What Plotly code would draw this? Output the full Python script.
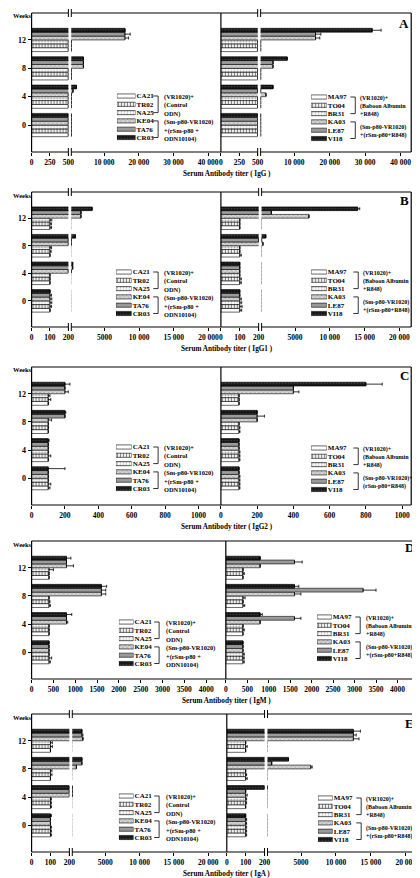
import plotly.graph_objects as go

# ---------------- DATA ----------------
weeks = ["0", "4", "8", "12"]
left_names = ["CA21", "TR02", "NA25", "KE04", "TA76", "CR03"]
right_names = ["MA97", "TO04", "BR31", "KA03", "LE87", "VI18"]
left_groups = [["(VR1020)+", "(Control", "ODN)"],
               ["(Sm-p80-VR1020)", "+(rSm-p80 +", "ODN10104)"]]
right_groups = [["(VR1020)+", "(Baboon Albumin", "+R848)"],
                ["(Sm-p80-VR1020)", "+(rSm-p80+R848)"]]
right_groups_c = [["(VR1020)+", "(Baboon Albumin", "+R848)"],
                  ["(Sm-p80-VR1020)+", "(rSm-p80+R848)"]]

# IgG (A) ; rows = series, columns = weeks 0,4,8,12
igg_left = [[500, 500, 500, 500], [500, 500, 500, 500], [500, 500, 500, 500],
            [500, 500, 4000, 16000], [500, 1000, 4000, 16000], [500, 2000, 4000, 16000]]
igg_left_err = [[0, 0, 0, 0], [0, 0, 0, 0], [0, 0, 0, 0],
                [0, 0, 0, 1000], [0, 0, 0, 1500], [0, 0, 0, 0]]
igg_right = [[500, 500, 500, 500], [500, 500, 500, 500], [500, 500, 500, 500],
             [500, 2000, 4000, 16000], [500, 500, 4000, 16000], [500, 4000, 8000, 32000]]
igg_right_err = [[0, 0, 0, 0], [0, 0, 0, 0], [0, 0, 0, 0],
                 [0, 0, 0, 1200], [0, 0, 0, 1500], [0, 0, 0, 2500]]

# IgG1 (B)
igg1_left = [[100, 100, 100, 100], [100, 100, 100, 100], [100, 100, 100, 100],
             [100, 200, 200, 1600], [100, 400, 200, 1600], [100, 400, 800, 3200]]
igg1_left_err = [[0, 0, 0, 8], [8, 0, 6, 8], [10, 0, 8, 10],
                 [10, 0, 0, 0], [8, 0, 0, 0], [0, 0, 0, 0]]
igg1_right = [[100, 100, 100, 100], [100, 100, 100, 100], [100, 100, 100, 100],
              [100, 100, 400, 7000], [100, 100, 200, 1600], [100, 100, 800, 14000]]
igg1_right_err = [[10, 8, 8, 0], [12, 8, 0, 0], [10, 0, 0, 0],
                  [8, 0, 0, 0], [0, 0, 0, 0], [0, 0, 0, 300]]

# IgG2 (C)
igg2_left = [[100, 100, 100, 100], [100, 100, 100, 100], [100, 100, 100, 100],
             [100, 100, 100, 200], [100, 100, 200, 200], [100, 100, 200, 200]]
igg2_left_err = [[10, 0, 0, 0], [15, 15, 0, 15], [0, 0, 0, 10],
                 [0, 0, 20, 20], [0, 0, 0, 0], [100, 5, 5, 30]]
igg2_right = [[100, 100, 100, 100], [100, 100, 100, 100], [100, 100, 100, 100],
              [100, 100, 200, 400], [100, 100, 200, 400], [100, 100, 200, 800]]
igg2_right_err = [[5, 5, 5, 0], [5, 5, 5, 0], [5, 5, 0, 0],
                  [5, 0, 0, 30], [0, 0, 40, 0], [0, 0, 0, 90]]

# IgM (D)
igm_left = [[400, 400, 400, 400], [400, 400, 400, 400], [400, 400, 400, 400],
            [400, 800, 1600, 800], [400, 800, 1600, 800], [400, 800, 1600, 800]]
igm_left_err = [[30, 0, 30, 0], [60, 0, 20, 0], [0, 0, 0, 100],
                [0, 30, 100, 160], [0, 0, 100, 0], [0, 120, 120, 100]]
igm_right = [[400, 400, 400, 400], [400, 400, 400, 400], [400, 400, 400, 400],
             [400, 800, 1600, 800], [400, 1600, 3200, 1600], [400, 800, 1600, 800]]
igm_right_err = [[30, 0, 40, 0], [30, 30, 0, 30], [30, 0, 50, 0],
                 [0, 0, 150, 0], [0, 150, 300, 180], [0, 50, 100, 0]]

# IgA (E)
iga_left = [[100, 100, 100, 100], [100, 100, 100, 100], [100, 100, 100, 100],
            [100, 200, 800, 1700], [100, 200, 1600, 1600], [100, 200, 1600, 1600]]
iga_left_err = [[5, 5, 0, 0], [5, 5, 8, 10], [5, 5, 8, 10],
                [0, 10, 0, 100], [0, 0, 0, 150], [5, 0, 0, 0]]
iga_right = [[100, 100, 100, 100], [100, 100, 100, 100], [100, 100, 100, 100],
             [100, 100, 6400, 12500], [100, 100, 800, 12500], [100, 200, 3200, 12500]]
iga_right_err = [[5, 0, 8, 0], [5, 5, 5, 8], [5, 5, 0, 0],
                 [5, 8, 200, 800], [5, 0, 0, 400], [0, 5, 0, 1000]]

# tick labels
ticks_500 = [0, 250, 500]
ticks_200 = [0, 100, 200]
ticks_igg_high = [10000, 20000, 30000, 40000]
ticks_high_20k = [5000, 10000, 15000, 20000]
ticks_c = [0, 200, 400, 600, 800, 1000]
ticks_d = [0, 500, 1000, 1500, 2000, 2500, 3000, 3500, 4000]


def fmt(v):
    return f"{v:,}".replace(",", " ") if v >= 10000 else str(v)


# ---------------- STYLES / GEOMETRY ----------------
W, H = 420, 878
FONT = "Liberation Serif"


def px(x):
    return x / W


def py(y):
    return 1 - y / H


def marker_style(i):
    line = dict(color="black", width=0.6)
    if i == 0:
        return dict(color="white", line=line)
    if i == 1:
        return dict(color="white", line=line,
                    pattern=dict(shape="|", fgcolor="black", bgcolor="white", size=3, solidity=0.4))
    if i == 2:
        return dict(color="white", line=line,
                    pattern=dict(shape=".", fgcolor="#555555", bgcolor="white", size=3, solidity=0.35))
    if i == 3:
        return dict(color="#c8c8c8", line=line,
                    pattern=dict(shape="x", fgcolor="#444444", bgcolor="#d8d8d8", size=3, solidity=0.25))
    if i == 4:
        return dict(color="#9a9a9a", line=line)
    return dict(color="#141414", line=line,
                pattern=dict(shape=".", fgcolor="#6a6a6a", bgcolor="#141414", size=3, solidity=0.25))


rows = [
    dict(letter="A", top=5, bottom=144, left=22, div=215, right=409,
         title="Serum Antibody titer ( IgG )",
         L=dict(vals=igg_left, err=igg_left_err, brk=61, lowmax=500, highmax=43700,
                lowt=ticks_500, hight=ticks_igg_high),
         R=dict(vals=igg_right, err=igg_right_err, brk=254, lowmax=500, highmax=43000,
                lowt=ticks_500, hight=ticks_igg_high),
         legL=dict(row0=88, sw=(109, 128), bx=151, tx=155),
         legR=dict(row0=89, sw=(307, 323), bx=352, tx=355), letter_xy=(402, 16)),
    dict(letter="B", top=184, bottom=319, left=22, div=215, right=409,
         title="Serum Antibody titer ( IgG1 )",
         L=dict(vals=igg1_left, err=igg1_left_err, brk=61, lowmax=200, highmax=21800,
                lowt=ticks_200, hight=ticks_high_20k),
         R=dict(vals=igg1_right, err=igg1_right_err, brk=255, lowmax=200, highmax=21700,
                lowt=ticks_200, hight=ticks_high_20k),
         legL=dict(row0=264, sw=(108, 124), bx=151, tx=155),
         legR=dict(row0=264, sw=(307, 323), bx=355, tx=358), letter_xy=(402, 192)),
    dict(letter="C", top=359, bottom=497, left=22, div=215, right=409,
         title="Serum Antibody titer ( IgG2 )",
         L=dict(vals=igg2_left, err=igg2_left_err, brk=None, lowmax=1135, lowt=ticks_c),
         R=dict(vals=igg2_right, err=igg2_right_err, brk=None, lowmax=1050, lowt=ticks_c),
         legL=dict(row0=439, sw=(108, 124), bx=151, tx=155),
         legR=dict(row0=440, sw=(307, 323), bx=355, tx=358), letter_xy=(402, 367)),
    dict(letter="D", top=533, bottom=671, left=22, div=220, right=415,
         title="Serum Antibody titer ( IgM )",
         L=dict(vals=igm_left, err=igm_left_err, brk=None, lowmax=4450, lowt=ticks_d),
         R=dict(vals=igm_right, err=igm_right_err, brk=None, lowmax=4457, lowt=ticks_d),
         legL=dict(row0=614, sw=(111, 126), bx=152, tx=157),
         legR=dict(row0=609, sw=(313, 328), bx=357, tx=361), letter_xy=(407, 539)),
    dict(letter="E", top=706, bottom=844, left=22, div=221, right=417,
         title="Serum Antibody titer ( IgA )",
         L=dict(vals=iga_left, err=iga_left_err, brk=62, lowmax=200, highmax=22700,
                lowt=ticks_200, hight=ticks_high_20k),
         R=dict(vals=iga_right, err=iga_right_err, brk=261, lowmax=200, highmax=21900,
                lowt=ticks_200, hight=ticks_high_20k),
         legL=dict(row0=788, sw=(111, 126), bx=152, tx=157),
         legR=dict(row0=790, sw=(314, 329), bx=358, tx=361), letter_xy=(407, 715)),
]

fig = go.Figure()
layout = {}
shapes = []
annotations = []
counters = {"x": 0, "y": 0}


def new_axis(kind):
    counters[kind] += 1
    n = counters[kind]
    short = kind if n == 1 else f"{kind}{n}"
    key = f"{kind}axis" if n == 1 else f"{kind}axis{n}"
    return short, key


def line(x0, y0, x1, y1, w=1.2):
    shapes.append(dict(type="line", xref="paper", yref="paper", x0=px(x0), x1=px(x1),
                       y0=py(y0), y1=py(y1), line=dict(color="black", width=w)))


def text(x, y, s, size=7, xanchor="left", yanchor="middle"):
    annotations.append(dict(x=px(x), y=py(y), xref="paper", yref="paper", text=s,
                            showarrow=False, xanchor=xanchor, yanchor=yanchor,
                            font=dict(size=size, family=FONT, color="#000000", weight="bold")))


SP = 8.3  # legend row spacing in px

for row in rows:
    top, bottom = row["top"], row["bottom"]
    for side in ("L", "R"):
        cfg = row[side]
        names = left_names if side == "L" else right_names
        x_start = row["left"] if side == "L" else row["div"]
        x_end = row["div"] if side == "L" else row["right"]
        ys, ykey = new_axis("y")
        segs = []
        if cfg["brk"] is None:
            segs.append((x_start, x_end, [0, cfg["lowmax"]], cfg["lowt"]))
        else:
            segs.append((x_start, cfg["brk"] - 1.5, [0, cfg["lowmax"]], cfg["lowt"]))
            segs.append((cfg["brk"] + 1.5, x_end, [cfg["lowmax"], cfg["highmax"]], cfg["hight"]))
        first_x = None
        for (a, b, rng, tv) in segs:
            xs, xkey = new_axis("x")
            if first_x is None:
                first_x = xs
            layout[xkey] = dict(domain=[px(a), px(b)], range=rng, anchor=ys,
                                tickmode="array", tickvals=tv, ticktext=[fmt(v) for v in tv],
                                ticks="outside", ticklen=3, tickwidth=1, tickcolor="black",
                                showline=False, showgrid=False, zeroline=False,
                                tickfont=dict(size=7.5), fixedrange=True)
            for i, nm in enumerate(names):
                err = [e if e > 0 else None for e in cfg["err"][i]]
                fig.add_trace(go.Bar(
                    x=cfg["vals"][i], y=weeks, orientation="h", name=nm,
                    xaxis=xs, yaxis=ys, marker=marker_style(i), showlegend=False,
                    error_x=dict(type="data", array=err, symmetric=False,
                                 arrayminus=[0, 0, 0, 0], color="black",
                                 thickness=0.8, width=1.5),
                    hoverinfo="skip"))
        layout[ykey] = dict(domain=[py(bottom), py(top)], anchor=first_x,
                            type="category", categoryorder="array", categoryarray=weeks,
                            tickmode="array", tickvals=weeks, ticktext=weeks,
                            range=[-0.95, 3.95], showgrid=False, zeroline=False, showline=False,
                            ticks="outside" if side == "L" else "",
                            showticklabels=(side == "L"), ticklen=3, tickwidth=1,
                            tickcolor="black", tickfont=dict(size=8), fixedrange=True)

        # box lines (top / bottom split at breaks)
        if cfg["brk"] is None:
            pieces = [(x_start, x_end)]
        else:
            pieces = [(x_start, cfg["brk"] - 1.5), (cfg["brk"] + 1.5, x_end)]
            for yy in (top, bottom):
                line(cfg["brk"] - 1.5, yy - 4, cfg["brk"] - 1.5, yy + 4, 1)
                line(cfg["brk"] + 1.5, yy - 4, cfg["brk"] + 1.5, yy + 4, 1)
        for (a, b) in pieces:
            line(a, top, b, top)
            line(a, bottom, b, bottom)

        # legend as a small bar axis
        leg = row["legL"] if side == "L" else row["legR"]
        r0 = leg["row0"]
        rows_y = [r0 + k * SP for k in range(6)]
        lxs, lxkey = new_axis("x")
        lys, lykey = new_axis("y")
        layout[lxkey] = dict(domain=[px(leg["sw"][0]), px(leg["sw"][1])], range=[0, 1],
                             anchor=lys, visible=False, fixedrange=True)
        layout[lykey] = dict(domain=[py(rows_y[-1] + SP / 2), py(rows_y[0] - SP / 2)],
                             anchor=lxs, type="category", categoryorder="array",
                             categoryarray=names[::-1], range=[-0.5, 5.5], side="right",
                             tickmode="array", tickvals=names, ticktext=names,
                             ticks="", showline=False, showgrid=False, zeroline=False,
                             tickfont=dict(size=7), fixedrange=True)
        for i, nm in enumerate(names):
            fig.add_trace(go.Bar(x=[1], y=[nm], orientation="h", xaxis=lxs, yaxis=lys,
                                 offsetgroup="leg", width=0.5, marker=marker_style(i),
                                 showlegend=False, hoverinfo="skip"))
        bx, tx = leg["bx"], leg["tx"]
        for g0, g1 in ((0, 2), (3, 5)):
            line(bx - 5, rows_y[g0], bx, rows_y[g0], 0.8)
            line(bx - 5, rows_y[g1], bx, rows_y[g1], 0.8)
            line(bx, rows_y[g0], bx, rows_y[g1], 0.8)
        if side == "L":
            groups = left_groups
        else:
            groups = right_groups_c if row["letter"] == "C" else right_groups
        fs = 6.4 if side == "L" else 6.0
        for k, s in enumerate(groups[0]):
            text(tx, rows_y[k] + 1, s, size=fs)
        if len(groups[1]) == 3:
            for k, s in enumerate(groups[1]):
                text(tx, rows_y[3 + k] + 1.5, s, size=fs)
        else:
            for k, s in enumerate(groups[1]):
                text(tx, (rows_y[3 + k] + rows_y[4 + k]) / 2 + 1, s, size=fs)

    # vertical box lines
    line(row["left"], top, row["left"], bottom)
    line(row["div"], top, row["div"], bottom)
    line(row["right"], top, row["right"], bottom)
    text(1, top + 3, "Weeks", size=6.5)
    text(row["letter_xy"][0], row["letter_xy"][1], row["letter"], size=13, xanchor="center")
    # axis title placed just below the tick labels
    text(221, bottom + 16, row["title"], size=7.2, xanchor="center", yanchor="top")

fig.update_layout(
    width=W, height=H, margin=dict(l=0, r=0, t=0, b=0),
    paper_bgcolor="white", plot_bgcolor="rgba(0,0,0,0)",
    barmode="group", bargap=0.18, bargroupgap=0,
    font=dict(family=FONT, size=8, color="black", weight="bold"),
    showlegend=False, shapes=shapes, annotations=annotations,
    **layout)

fig.write_html("out.html")
